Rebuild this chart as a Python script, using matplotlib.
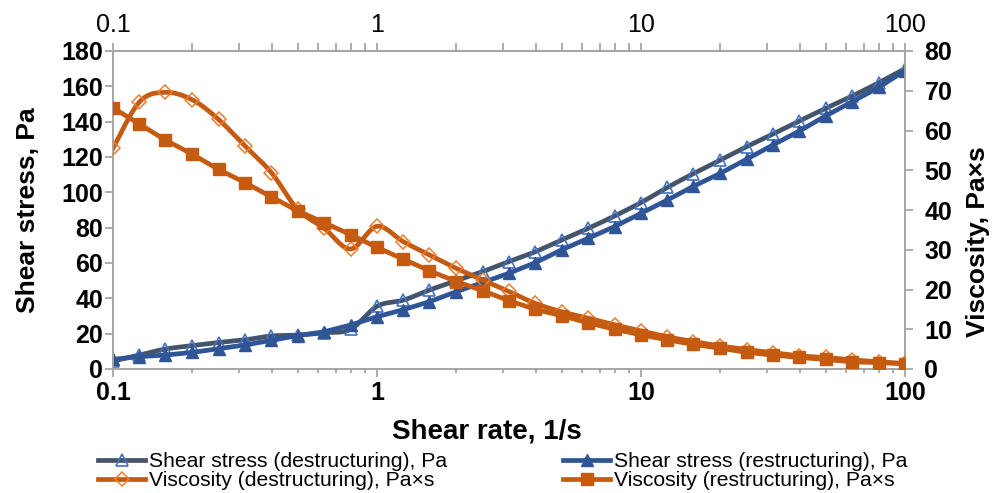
import numpy as np
import matplotlib
matplotlib.use("Agg")
import matplotlib.pyplot as plt
from matplotlib.lines import Line2D
from matplotlib.ticker import FixedLocator, LogLocator, NullFormatter

plt.rcParams['font.family'] = ['Liberation Sans', 'DejaVu Sans']

# shear rate, 1/s (10 points per decade)
shear_rate = [0.1, 0.126, 0.158, 0.2, 0.251, 0.316, 0.398, 0.5, 0.631, 0.794,
              1, 1.26, 1.58, 2, 2.51, 3.16, 3.98, 5, 6.31, 7.94,
              10, 12.6, 15.8, 20, 25.1, 31.6, 39.8, 50, 63.1, 79.4, 100]

# shear stress, Pa
stress_destr = [4.5, 7.9, 11.3, 13.2, 15.0, 16.5, 18.7, 19.2, 20.5, 22.5,
                35.5, 39.0, 44.7, 50.0, 55.1, 60.8, 66.4, 73.0, 79.6, 86.6,
                94.2, 102.8, 110.6, 118.3, 125.8, 133.0, 140.4, 147.5, 154.5, 162.0, 170.0]
stress_restr = [5.5, 7.0, 7.9, 9.4, 11.5, 13.6, 16.2, 18.9, 21.1, 24.9,
                29.6, 33.6, 38.1, 43.8, 48.9, 54.2, 60.2, 67.4, 74.0, 80.6,
                88.1, 95.7, 103.4, 110.8, 118.7, 126.8, 134.7, 143.2, 151.3, 159.4, 168.9]

# viscosity, Pa*s
visc_destr = [55.5, 67.2, 69.6, 67.7, 62.8, 56.1, 49.4, 40.2, 35.4, 30.2,
              35.9, 32.0, 28.7, 25.3, 22.4, 19.5, 16.5, 14.4, 12.8, 11.1,
              9.6, 8.1, 6.9, 5.8, 4.9, 4.1, 3.3, 2.9, 2.3, 1.8, 1.4]
visc_restr = [65.7, 61.6, 57.6, 54.0, 50.2, 46.9, 43.3, 39.8, 36.8, 33.8,
              30.6, 27.6, 24.7, 22.0, 19.7, 17.2, 15.0, 13.4, 11.6, 10.0,
              8.6, 7.3, 6.2, 5.2, 4.2, 3.5, 2.9, 2.4, 1.8, 1.6, 1.3]

x_ticks = [0.1, 1, 10, 100]
x_ticklabels = ['0.1', '1', '10', '100']


def smooth(x, y, n=20):
    # Bezier smoothing in log-x space, like spreadsheet "smoothed line"
    u = np.log10(np.asarray(x, float))
    v = np.asarray(y, float)
    P = np.column_stack([u, v])
    out = []
    t = np.linspace(0, 1, n)[:, None]
    for i in range(len(P) - 1):
        p0 = P[i - 1] if i > 0 else P[i]
        p1, p2 = P[i], P[i + 1]
        p3 = P[i + 2] if i + 2 < len(P) else P[i + 1]
        c1 = p1 + (p2 - p0) / 6
        c2 = p2 - (p3 - p1) / 6
        seg = ((1 - t) ** 3) * p1 + 3 * ((1 - t) ** 2) * t * c1 + 3 * (1 - t) * t ** 2 * c2 + t ** 3 * p2
        out.append(seg if i == 0 else seg[1:])
    s = np.vstack(out)
    return 10 ** s[:, 0], s[:, 1]


fig = plt.figure(figsize=(9.95, 4.93), dpi=100)
ax = fig.add_axes([113 / 995, 1 - 369 / 493, 792 / 995, 318 / 493])
ax2 = ax.twinx()

c_gray = '#44546A'
c_blue_open = '#4472C4'
c_blue = '#2F5597'
c_orange = '#C55A11'
c_orange_lt = '#ED7D31'
lw = 3.4

# shear stress (left axis)
sx, sy = smooth(shear_rate, stress_destr)
ax.plot(sx, sy, color=c_gray, lw=lw, zorder=2)
ax.plot(shear_rate, stress_destr, ls='none', marker='^', ms=8.5, mfc='none',
        mec=c_blue_open, mew=1.2, zorder=3)
ax.plot(shear_rate, stress_restr, color=c_blue, lw=lw, marker='^', ms=8.5,
        mfc=c_blue, mec=c_blue, zorder=4)

# viscosity (right axis)
vx, vy = smooth(shear_rate, visc_destr)
ax2.plot(vx, vy, color=c_orange, lw=lw, zorder=2)
ax2.plot(shear_rate, visc_destr, ls='none', marker='D', ms=7.5, mfc='none',
         mec=c_orange_lt, mew=1.1, zorder=3)
ax2.plot(shear_rate, visc_restr, color=c_orange, lw=lw, marker='s', ms=8,
         mfc=c_orange, mec=c_orange, zorder=4)

ax.set_xscale('log')
ax.set_xlim(0.1, 100)
ax.set_ylim(0, 180)
ax2.set_ylim(0, 80)
ax.set_yticks(np.arange(0, 181, 20))
ax2.set_yticks(np.arange(0, 81, 10))
ax.xaxis.set_major_locator(FixedLocator(x_ticks))
ax.set_xticklabels(x_ticklabels)
ax.xaxis.set_minor_locator(LogLocator(base=10, subs=np.arange(2, 10)))
ax.xaxis.set_minor_formatter(NullFormatter())

spine_c = '#A6A6A6'
for a in (ax, ax2):
    for sp in a.spines.values():
        sp.set_color(spine_c)
        sp.set_linewidth(1.3)

ax.tick_params(axis='y', which='major', length=6, width=1.3, color=spine_c,
               labelsize=18, pad=1)
ax.tick_params(axis='x', which='major', length=6, width=1.3, color=spine_c,
               labelsize=18, pad=3)
ax.tick_params(axis='x', which='minor', length=3, width=1.3, color=spine_c)
ax2.tick_params(axis='y', which='major', length=6, width=1.3, color=spine_c,
                labelsize=18, pad=8)
for lab in ax.get_xticklabels() + ax.get_yticklabels() + ax2.get_yticklabels():
    lab.set_fontweight('bold')

# top axis with same log scale
top = ax.secondary_xaxis('top')
top.xaxis.set_major_locator(FixedLocator(x_ticks))
top.set_xticklabels(x_ticklabels)
top.xaxis.set_minor_locator(LogLocator(base=10, subs=np.arange(2, 10)))
top.xaxis.set_minor_formatter(NullFormatter())
top.tick_params(axis='x', which='both', length=6, width=1.3, color=spine_c,
                labelsize=18, pad=4)
top.spines['top'].set_color(spine_c)
top.spines['top'].set_linewidth(1.3)

ax.set_xlabel('Shear rate, 1/s', fontsize=20, fontweight='bold')
ax.xaxis.set_label_coords(0.472, -0.155)
ax.set_ylabel('Shear stress, Pa', fontsize=19, fontweight='bold')
ax.yaxis.set_label_coords(-0.092, 0.5)
ax2.set_ylabel('Viscosity, Pa×s', fontsize=19, fontweight='bold', rotation=90)
ax2.yaxis.set_label_coords(1.077, 0.40)

handles = [
    Line2D([], [], color=c_gray, lw=lw, marker='^', ms=8.5, mfc='none', mec=c_blue_open, mew=1.2),
    Line2D([], [], color=c_orange, lw=lw, marker='D', ms=7.5, mfc='none', mec=c_orange_lt, mew=1.1),
    Line2D([], [], color=c_blue, lw=lw, marker='^', ms=8.5, mfc=c_blue, mec=c_blue),
    Line2D([], [], color=c_orange, lw=lw, marker='s', ms=8, mfc=c_orange, mec=c_orange),
]
labels = ['Shear stress (destructuring), Pa', 'Viscosity (destructuring), Pa×s',
          'Shear stress (restructuring), Pa', 'Viscosity (restructuring), Pa×s']
fig.legend(handles, labels, loc='upper left', bbox_to_anchor=(98 / 995, 1 - 452 / 493),
           ncol=2, frameon=False, fontsize=15.2, handlelength=2.25, handletextpad=0.15,
           columnspacing=5.5, labelspacing=0.0, borderpad=0, borderaxespad=0)

fig.savefig('out.png', dpi=100)
